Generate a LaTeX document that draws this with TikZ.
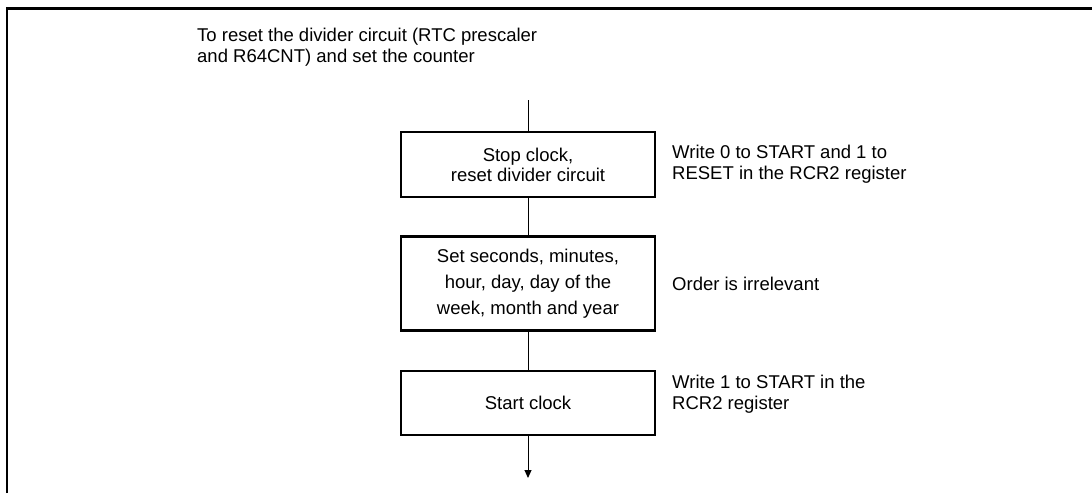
\documentclass[tikz,border=0pt]{standalone}
\usepackage{fontspec}
\setmainfont{Liberation Sans}
\usetikzlibrary{arrows.meta}
\begin{document}
\begin{tikzpicture}[x=1pt,y=-1pt,
  txt/.style={inner sep=0pt,font=\fontsize{18.5}{21}\selectfont},
  stepbox/.style={draw,line width=2.8pt,minimum width=254pt,inner sep=0pt,align=center,font=\fontsize{18.5}{20}\selectfont},
  flow/.style={line width=1pt},
  note/.style={txt,anchor=west,align=left}]
\useasboundingbox (0,0) rectangle (1092,493);
% frame (open on right and bottom)
\draw[line width=2.6pt] (7,493) -- (7,8.5) -- (1092,8.5);
% title
\node[note] (title) at (197,47.5) {To reset the divider circuit (RTC prescaler\\and R64CNT) and set the counter};
% boxes
\node[stepbox,minimum height=65pt] (b1) at (528,164.5) {Stop clock,\\reset divider circuit};
\node[stepbox,minimum height=94pt,font=\fontsize{18.5}{26}\selectfont] (b2) at (528,283.5) {Set seconds, minutes,\\hour, day, day of the\\week, month and year};
\node[stepbox,minimum height=64pt] (b3) at (528,403) {Start clock};
% connectors
\coordinate (start) at (528,100);
\coordinate (end) at (528,478);
\draw[flow] (start) -- (b1.north);
\draw[flow] (b1.south) -- (b2.north);
\draw[flow] (b2.south) -- (b3.north);
\draw[flow,-{Triangle[length=8pt,width=7pt]}] (b3.south) -- (end);
% notes
\node[note] (n1) at (672,164) {Write 0 to START and 1 to\\RESET in the RCR2 register};
\node[txt,anchor=base west] (n2) at (672,290.7) {Order is irrelevant};
\node[note] (n3) at (672,394) {Write 1 to START in the\\RCR2 register};
\end{tikzpicture}
\end{document}
